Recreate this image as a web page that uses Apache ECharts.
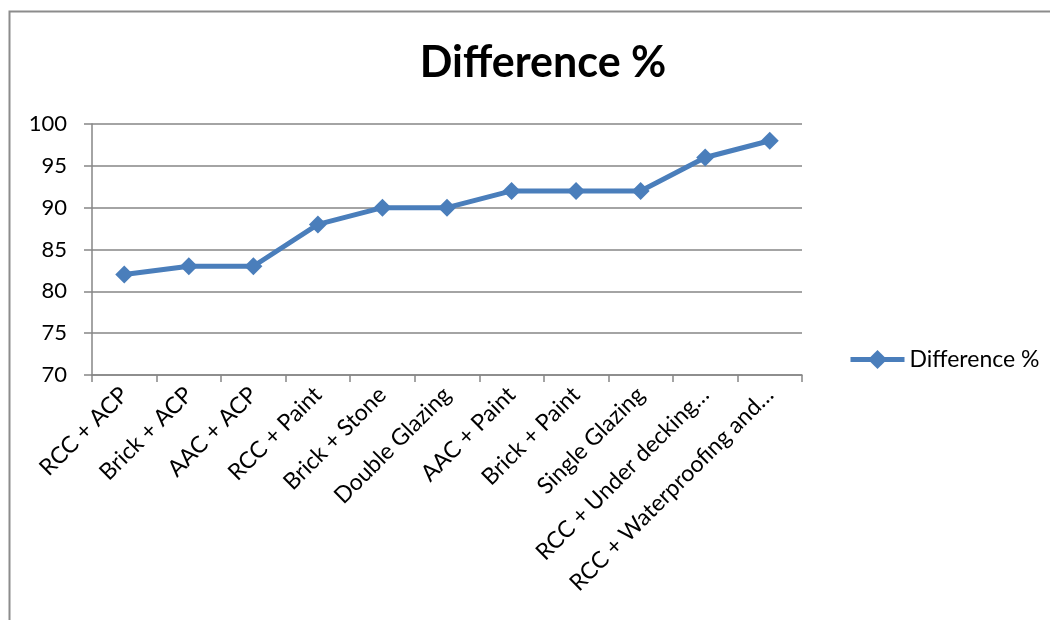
<!DOCTYPE html>
<html>
<head>
<meta charset="utf-8">
<script src="https://cdn.jsdelivr.net/npm/echarts@6/dist/echarts.min.js"></script>
<style>
  html, body { margin: 0; padding: 0; background: #fff; }
  #chart { width: 1050px; height: 620px; }
</style>
</head>
<body>
<div id="chart"></div>
<script>
// Wall/glazing combinations and their difference percentages
const categories = [
  'RCC + ACP', 'Brick + ACP', 'AAC + ACP', 'RCC + Paint', 'Brick + Stone',
  'Double Glazing', 'AAC + Paint', 'Brick + Paint', 'Single Glazing',
  'RCC + Under decking\u2026', 'RCC + Waterproofing and\u2026'
];
const differencePct = [82, 83, 83, 88, 90, 90, 92, 92, 92, 96, 98];
const yTicks = { min: 70, max: 100, step: 5 };

const FONT = 'Lato, "Noto Sans", sans-serif';
const GRID_GRAY = '#868686';
const LINE_BLUE = '#4a7ebb';

const chart = echarts.init(document.getElementById('chart'), null, { renderer: 'canvas' });

chart.setOption({
  backgroundColor: '#fff',
  animation: false,
  title: {
    text: 'Difference %',
    left: 538,
    top: 37,
    textAlign: 'center',
    textStyle: { fontFamily: FONT, fontSize: 43, fontWeight: 'bold', color: '#000' }
  },
  graphic: [{
    type: 'rect',
    shape: { x: 9.5, y: 11.5, width: 1100, height: 700 },
    style: { fill: 'none', stroke: '#8c8c8c', lineWidth: 2 },
    silent: true
  }],
  legend: {
    data: ['Difference %'],
    left: 843,
    top: 343,
    itemWidth: 54,
    itemHeight: 24,
    itemGap: 5,
    lineStyle: { width: 5 },
    textStyle: { fontFamily: FONT, fontSize: 23, color: '#000' }
  },
  grid: { left: 92, right: 248, top: 124, bottom: 245, containLabel: false },
  xAxis: {
    type: 'category',
    data: categories,
    boundaryGap: true,
    axisLine: { lineStyle: { color: GRID_GRAY, width: 1.5 } },
    axisTick: { show: true, length: 7, lineStyle: { color: GRID_GRAY, width: 1.5 } },
    axisLabel: {
      interval: 0,
      rotate: 45,
      margin: 16,
      fontFamily: FONT,
      fontSize: 23,
      color: '#000'
    }
  },
  yAxis: {
    type: 'value',
    min: yTicks.min,
    max: yTicks.max,
    interval: yTicks.step,
    axisLine: { show: true, lineStyle: { color: GRID_GRAY, width: 1.5 } },
    axisTick: { show: true, length: 8, lineStyle: { color: GRID_GRAY, width: 1.5 } },
    splitLine: { show: true, lineStyle: { color: GRID_GRAY, width: 1.5 } },
    axisLabel: { margin: 25, fontFamily: FONT, fontSize: 22, color: '#000' }
  },
  series: [{
    name: 'Difference %',
    type: 'line',
    data: differencePct,
    symbol: 'diamond',
    symbolSize: 18,
    lineStyle: { color: LINE_BLUE, width: 5 },
    itemStyle: { color: LINE_BLUE },
    z: 3
  }]
});
</script>
</body>
</html>
